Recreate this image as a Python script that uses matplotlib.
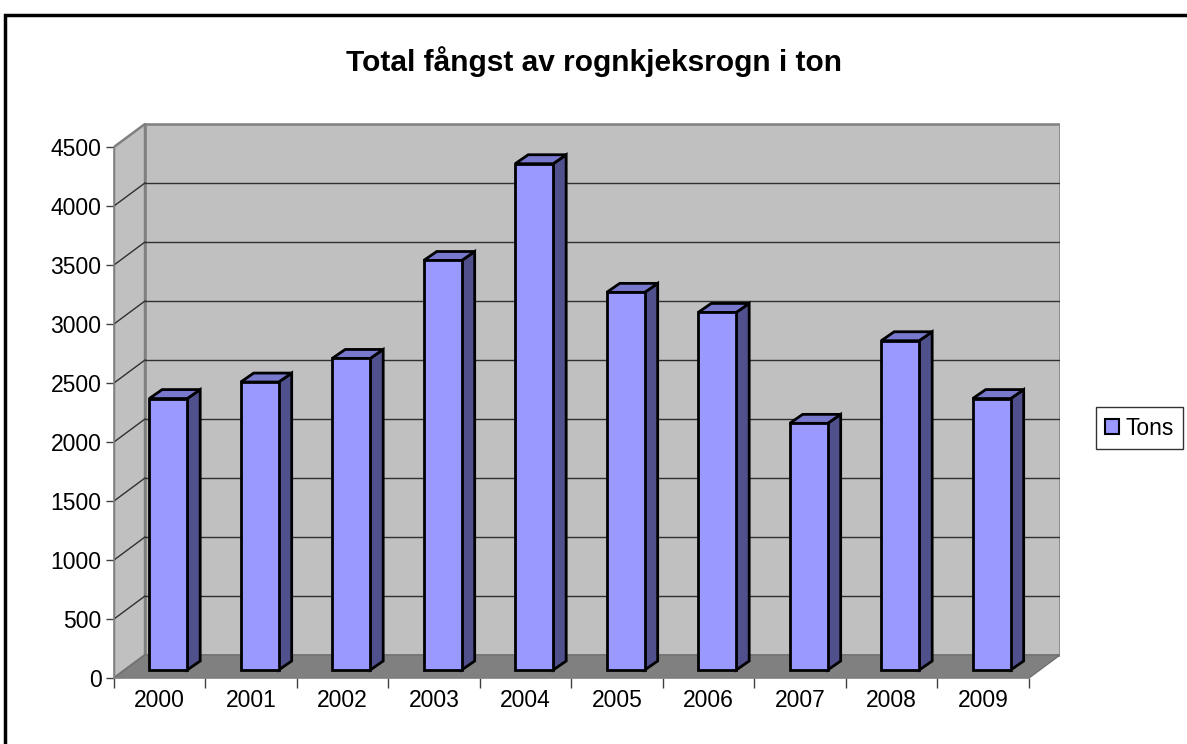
import numpy as np
import matplotlib.pyplot as plt
from matplotlib.patches import Polygon, Rectangle, Patch

plt.rcParams['font.family'] = ['Liberation Sans', 'DejaVu Sans']

# data
years = ['2000', '2001', '2002', '2003', '2004', '2005', '2006', '2007', '2008', '2009']
tons = [2300, 2440, 2640, 3470, 4290, 3200, 3030, 2090, 2790, 2300]
yticks = [0, 500, 1000, 1500, 2000, 2500, 3000, 3500, 4000, 4500]

# pseudo 3d geometry (in data units)
DX, DY = 0.339, 195        # depth of the plot box
BDX, BDY = 0.142, 76       # depth of each column
BOFF_Y = 68                # column front sits a bit behind the front edge
BW = 0.415
x0, x1 = -0.5, len(years) - 0.5
ymax = yticks[-1]

fig = plt.figure(figsize=(11.87, 7.44), dpi=100)
ax = fig.add_axes([114 / 1187, 66 / 744, (1060 - 114) / 1187, (678 - 123) / 744])
ax.set_xlim(x0, x1 + DX)
ax.set_ylim(0, ymax + DY + 8)
ax.patch.set_visible(False)

wall = '#c0c0c0'
edge = '#808080'
# back wall, side wall, floor
ax.add_patch(Polygon([(x0 + DX, DY), (x1 + DX, DY), (x1 + DX, ymax + DY), (x0 + DX, ymax + DY)],
                     closed=True, fc=wall, ec=edge, lw=1.8, zorder=1))
ax.add_patch(Polygon([(x0, 0), (x0 + DX, DY), (x0 + DX, ymax + DY), (x0, ymax)],
                     closed=True, fc=wall, ec=edge, lw=1.8, zorder=1))
ax.add_patch(Polygon([(x0, 0), (x1, 0), (x1 + DX, DY), (x0 + DX, DY)],
                     closed=True, fc='#808080', ec='#707070', lw=1.0, zorder=1))

# gridlines
for v in yticks[1:-1]:
    ax.plot([x0 + DX, x1 + DX], [v + DY, v + DY], color='#303030', lw=1.0, zorder=2)
    ax.plot([x0, x0 + DX], [v, v + DY], color='#303030', lw=1.0, zorder=2)

# columns
front = '#9999ff'
side = '#50508c'
top = '#7878cc'
xs = np.arange(len(years))
lefts = xs - 0.115
for xl, v in zip(lefts, tons):
    xr = xl + BW
    yb = BOFF_Y
    yt = BOFF_Y + v
    ax.add_patch(Polygon([(xr, yb), (xr + BDX, yb + BDY), (xr + BDX, yt + BDY), (xr, yt)],
                         closed=True, fc=side, ec='black', lw=2.0, zorder=3))
    ax.add_patch(Polygon([(xl, yt), (xr, yt), (xr + BDX, yt + BDY), (xl + BDX, yt + BDY)],
                         closed=True, fc=top, ec='black', lw=2.0, zorder=3))
ax.bar(lefts, tons, width=BW, bottom=BOFF_Y, align='edge', color=front,
       edgecolor='black', linewidth=2.0, zorder=4)

# axes
for s in ['top', 'right']:
    ax.spines[s].set_visible(False)
ax.spines['left'].set_bounds(0, ymax)
ax.spines['bottom'].set_bounds(x0, x1)
ax.spines['left'].set_color('#808080')
ax.spines['bottom'].set_color('#808080')
ax.spines['left'].set_linewidth(1.2)
ax.spines['bottom'].set_linewidth(1.2)
ax.spines['left'].set_zorder(5)
ax.spines['bottom'].set_zorder(5)

ax.set_yticks(yticks)
ax.set_yticklabels([str(v) for v in yticks], fontsize=16.5)
ax.tick_params(axis='y', length=6, width=1, color='#404040', pad=3)
ax.set_xticks(np.arange(x0, x1 + 0.01, 1.0))
ax.set_xticklabels([])
ax.set_xticks(xs, minor=True)
ax.set_xticklabels(years, minor=True, fontsize=16.5)
ax.tick_params(axis='x', which='major', length=7, width=1, color='#404040')
ax.tick_params(axis='x', which='minor', length=0, pad=8)

# title
fig.text(594 / 1187, 1 - 62 / 744, 'Total fångst av rognkjeksrogn i ton',
         ha='center', va='center', fontsize=21.5, fontweight='bold')

# legend
fig.legend(handles=[Patch(facecolor=front, edgecolor='black', linewidth=1.5, label='Tons')],
           loc='center left', bbox_to_anchor=(1096 / 1187, 1 - 428 / 744),
           fontsize=16.5, frameon=True, fancybox=False, edgecolor='black',
           handlelength=0.6, handleheight=0.6, handletextpad=0.3, borderpad=0.4,
           borderaxespad=0)

# chart frame
fig.patches.append(Rectangle((5 / 1187, -0.1), 2.0, 1.1 - 15 / 744, transform=fig.transFigure,
                             fill=False, edgecolor='black', lw=2.5))

fig.savefig('out.png', dpi=100)
